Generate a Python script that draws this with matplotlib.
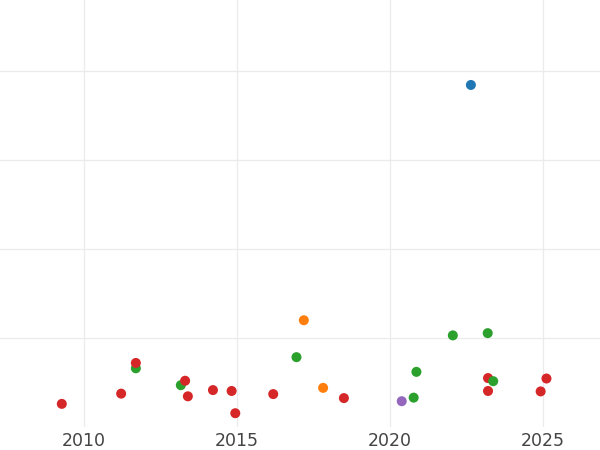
import matplotlib
matplotlib.use("Agg")
import matplotlib.pyplot as plt
import numpy as np

# data (y in arbitrary units, gridlines every 20)
years = [2009.28, 2011.22, 2011.70, 2011.70, 2013.17, 2013.31, 2013.40, 2014.22,
         2014.83, 2014.95, 2016.19, 2016.95, 2017.19, 2017.82, 2018.50, 2020.39,
         2020.78, 2020.87, 2022.06, 2022.65, 2023.20, 2023.21, 2023.21, 2023.38,
         2024.93, 2025.12]
values = [5.2, 7.5, 13.2, 14.4, 9.4, 10.4, 6.9, 8.3,
          8.1, 3.1, 7.4, 15.7, 24.0, 8.8, 6.5, 5.8,
          6.6, 12.4, 20.6, 76.9, 21.1, 11.0, 8.1, 10.3,
          8.0, 10.9]
groups = ["D", "D", "C", "D", "C", "D", "D", "D",
          "D", "D", "D", "C", "B", "B", "D", "E",
          "C", "C", "C", "A", "C", "D", "D", "C",
          "D", "D"]
group_colors = {"A": "#1f77b4", "B": "#ff7f0e", "C": "#2ca02c",
                "D": "#d62728", "E": "#9467bd"}
x_ticks = [2010, 2015, 2020, 2025]
y_grid = [20, 40, 60, 80]

fig = plt.figure(figsize=(6, 4.5), dpi=100)
ax = fig.add_axes([0, 1 - 427 / 450, 1, 427 / 450])

order = np.argsort(years, kind="stable")
xs = np.array(years)[order]
ys = np.array(values)[order]
cs = [group_colors[groups[i]] for i in order]
ax.scatter(xs, ys, c=cs, s=52, linewidths=0, zorder=3)

ax.set_xlim(2007.26, 2026.87)
ax.set_ylim(0, 96)
ax.set_xticks(x_ticks)
ax.set_xticklabels([str(t) for t in x_ticks])
ax.set_yticks(y_grid)
ax.set_yticklabels([])
ax.grid(True, color="#ebebeb", linewidth=0.9, zorder=0)
ax.set_axisbelow(True)
ax.tick_params(axis="both", length=0, labelsize=12.5, labelcolor="#444444", pad=3.5)
for s in ax.spines.values():
    s.set_visible(False)

fig.savefig("out.png", dpi=100)
